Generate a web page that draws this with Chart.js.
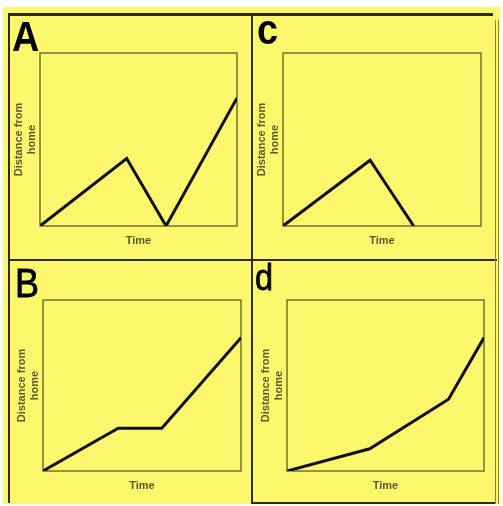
<!DOCTYPE html>
<html>
<head>
<meta charset="utf-8">
<script src="https://cdn.jsdelivr.net/npm/chart.js@4.4.1/dist/chart.umd.min.js"></script>
<style>
    body { margin: 0; background: #fff; width: 503px; height: 506px; position: relative; overflow: hidden;
           font-family: "Liberation Sans", Arial, sans-serif; }
    #sheet { position: absolute; left: 3px; top: 7px; width: 497px; height: 497px; background: #fcf76c; }
    .rule { position: absolute; background: #2e2c12; }
    canvas { position: absolute; }
    .letter { position: absolute; line-height: 1; color: #000; transform: scaleX(.9); transform-origin: 0 0; }
</style>
</head>
<body>
<div id="sheet"></div>

<!-- frame lines -->
<div class="rule" style="left:9px;top:13px;width:484px;height:3px"></div>
<div class="rule" style="left:8px;top:13px;width:2px;height:490px"></div>
<div class="rule" style="left:251px;top:13px;width:2px;height:491px"></div>
<div class="rule" style="left:9px;top:259px;width:488px;height:2px"></div>
<div class="rule" style="left:251px;top:502px;width:245px;height:2px"></div>
<div class="rule" style="left:495px;top:20px;width:1px;height:484px;background:#8a8640"></div>
<div class="rule" style="left:498px;top:20px;width:1px;height:484px;background:#8a8640"></div>

<canvas id="chartA" width="243" height="246" style="left:9px;top:14px"></canvas>
<canvas id="chartC" width="245" height="246" style="left:252px;top:14px"></canvas>
<canvas id="chartB" width="243" height="243" style="left:9px;top:260px"></canvas>
<canvas id="chartD" width="245" height="243" style="left:252px;top:260px"></canvas>

<div class="letter" style="left:12px;top:16px;font-size:42px;font-weight:bold">A</div>
<div class="letter" style="left:257px;top:9px;font-size:42px;font-weight:bold">c</div>
<div class="letter" style="left:15px;top:263px;font-size:40px;-webkit-text-stroke:0.8px #000">B</div>
<div class="letter" style="left:255px;top:260px;font-size:36px;-webkit-text-stroke:0.8px #000">d</div>

<script>
// values (0..10 on both axes)
const timeA = [0, 4.4, 6.4, 10];
const distA = [0, 3.9, 0, 7.4];

const timeC = [0, 4.4, 6.6];
const distC = [0, 3.8, 0];

const timeB = [0, 3.8, 6.0, 10];
const distB = [0, 2.5, 2.5, 7.8];

const timeD = [0, 4.2, 8.2, 10];
const distD = [0, 1.3, 4.2, 7.8];

const axisMin = 0;
const axisMax = 10;
const xTitle = "Time";
const yTitle = ["Distance from", "home"];

// box frame round the plot area
const framePlugin = {
    id: "frame",
    beforeDatasetsDraw(chart) {
        const { ctx, chartArea: a } = chart;
        ctx.save();
        ctx.strokeStyle = "#74712e";
        ctx.lineWidth = 1.5;
        ctx.strokeRect(a.left, a.top, a.right - a.left, a.bottom - a.top);
        ctx.restore();
    },
};

const titleFont = { family: "'Liberation Sans', Arial, sans-serif", size: 11, weight: "bold" };
const titleColor = "#5b5a2c";

function makeChart(id, box, plot, xs, ys) {
    const yTitleH = 2 * 13.2 + 1;
    const xTitleH = 13.2 + 8;

    return new Chart(document.getElementById(id), {
        type: "scatter",
        data: {
            datasets: [
                {
                    data: xs.map((x, i) => ({ x: x, y: ys[i] })),
                    showLine: true,
                    borderColor: "#111",
                    borderWidth: 3,
                    pointRadius: 0,
                    tension: 0,
                },
            ],
        },
        options: {
            responsive: false,
            animation: false,
            layout: {
                padding: {
                    left: plot.l - box.l - yTitleH,
                    top: plot.t - box.t,
                    right: box.r - plot.r,
                    bottom: box.b - plot.b - xTitleH,
                },
            },
            plugins: { legend: { display: false }, tooltip: { enabled: false } },
            scales: {
                x: {
                    type: "linear",
                    min: axisMin,
                    max: axisMax,
                    ticks: { display: false },
                    grid: { display: false, drawTicks: false },
                    border: { display: false },
                    title: { display: true, text: xTitle, font: titleFont, color: titleColor, padding: { top: 8, bottom: 0 } },
                },
                y: {
                    min: axisMin,
                    max: axisMax,
                    ticks: { display: false },
                    grid: { display: false, drawTicks: false },
                    border: { display: false },
                    title: { display: true, text: yTitle, font: titleFont, color: titleColor, padding: { top: 0, bottom: 1 } },
                },
            },
        },
        plugins: [framePlugin],
    });
}

makeChart("chartA", { l: 9, t: 14, r: 252, b: 260 }, { l: 40, t: 53, r: 237, b: 226 }, timeA, distA);
makeChart("chartC", { l: 252, t: 14, r: 497, b: 260 }, { l: 283, t: 53, r: 481, b: 226 }, timeC, distC);
makeChart("chartB", { l: 9, t: 260, r: 252, b: 503 }, { l: 43, t: 300, r: 241, b: 471 }, timeB, distB);
makeChart("chartD", { l: 252, t: 260, r: 497, b: 503 }, { l: 287, t: 300, r: 484, b: 471 }, timeD, distD);
</script>
</body>
</html>
